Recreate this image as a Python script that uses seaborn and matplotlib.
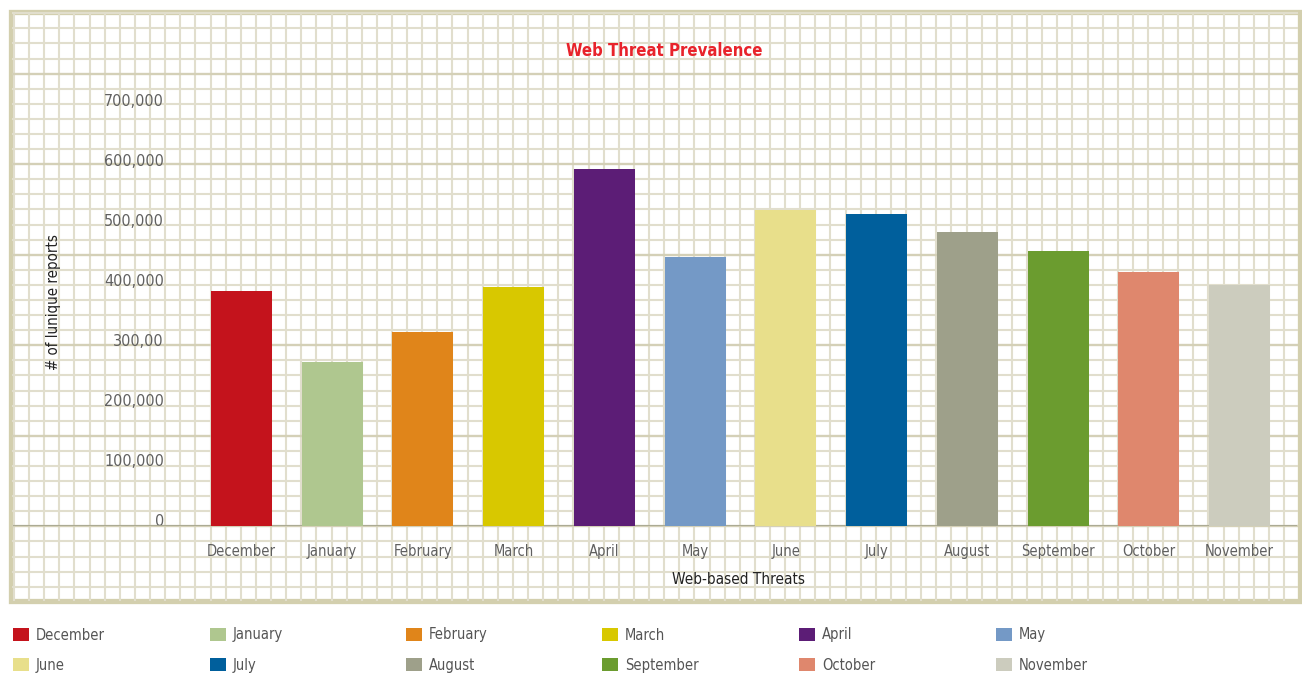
import numpy as np
import pandas as pd
import matplotlib
matplotlib.use("Agg")
import matplotlib.pyplot as plt
from matplotlib.patches import Patch, Rectangle
import seaborn as sns

# ---------------- data ----------------
months = ["December", "January", "February", "March", "April", "May",
          "June", "July", "August", "September", "October", "November"]
reports = [392000, 273000, 323000, 398000, 595000, 448000,
           527000, 520000, 490000, 458000, 423000, 402000]
colors = ["#c4131c", "#afc78f", "#e0851a", "#d8c800", "#5c1d76", "#7499c6",
          "#e8df8b", "#005f9c", "#9ea08a", "#6b9c2f", "#df876d", "#ccccbe"]
ytick_values = [0, 100000, 200000, 300000, 400000, 500000, 600000, 700000]
ytick_labels = ["0", "100,000", "200,000", "300,00", "400,000",
                "500,000", "600,000", "700,000"]
title = "Web Threat Prevalence"
xlabel = "Web-based Threats"
ylabel = "# of lunique reports"

# ---------------- style ----------------
sns.set_style("white")
plt.rcParams["font.family"] = ["DejaVu Sans"]
plt.rcParams["font.stretch"] = "condensed"

W, H = 1302, 675
fig = plt.figure(figsize=(W / 100, H / 100), dpi=100)
fig.patch.set_facecolor("white")

# ---- graph-paper background (decoration, pixel coordinates) ----
bg = fig.add_axes([0, 0, 1, 1], zorder=0)
bg.set_xlim(0, W)
bg.set_ylim(H, 0)
bg.axis("off")
x0, x1, y0, y1 = 12, 1298, 12, 601
vx = np.arange(14, x1, 15.12)
hy = np.arange(13.3, y1, 15.09)
bg.vlines(vx, y0, y1, color="#e1decd", lw=1.5)
minor_h = [y for y in hy if (round((y - 72.3) / 15.09) % 6) != 0]
major_h = [y for y in hy if (round((y - 72.3) / 15.09) % 6) == 0]
bg.hlines(minor_h, x0, x1, color="#e1decd", lw=1.5)
bg.hlines(major_h, x0, x1, color="#d4d0b7", lw=1.7)
bg.add_patch(Rectangle((10.5, 11.5), 1289, 589, fill=False,
                       edgecolor="#d3cfae", lw=3.8))

# ---- main axes ----
ax_left, ax_right = 13, 1297
ax_bottom, ax_top = 526, 106
ax = fig.add_axes([ax_left / W, 1 - ax_bottom / H,
                   (ax_right - ax_left) / W, (ax_bottom - ax_top) / H], zorder=2)
ax.set_facecolor("none")

df = pd.DataFrame({"month": months, "reports": reports})
sns.barplot(data=df, x="month", y="reports", hue="month", palette=colors,
            order=months, hue_order=months, width=0.672, saturation=1,
            linewidth=0, edgecolor="none", legend=False, ax=ax, zorder=3)

step = 90.73
ax.set_xlim((ax_left - 241.5) / step, (ax_right - 241.5) / step)
ax.set_ylim(0, 700000)
ax.axhline(0, color="#a3a38e", lw=1.2, zorder=2)

for s in ax.spines.values():
    s.set_visible(False)

ax.set_yticks(ytick_values)
ax.set_yticklabels(ytick_labels)
ax.tick_params(axis="y", length=0, pad=-108.7, labelsize=11.5, labelcolor="#606060")
plt.setp(ax.get_yticklabels(), va="baseline")
ax.tick_params(axis="x", length=0, pad=13, labelsize=10.5, labelcolor="#606060")
ax.grid(False)

ax.set_xlabel(xlabel, fontsize=11, color="#222222")
ax.xaxis.set_label_coords((739 - ax_left) / (ax_right - ax_left),
                          (ax_bottom - 572) / (ax_bottom - ax_top))
ax.set_ylabel(ylabel, fontsize=10.8, color="#222222")
ax.yaxis.set_label_coords((61 - ax_left) / (ax_right - ax_left),
                          (ax_bottom - 302.5) / (ax_bottom - ax_top))

ax.set_title(title, fontsize=12, fontweight="bold", color="#e8232b", pad=0,
             x=(664 - ax_left) / (ax_right - ax_left),
             y=(ax_bottom - 56) / (ax_bottom - ax_top))

# ---- legend: 6 columns x 2 rows below the box ----
col_x = [13, 210, 406, 602, 799, 996]
for j in range(6):
    idx = [j, j + 6]
    handles = [Patch(facecolor=colors[i], edgecolor="none") for i in idx]
    labels = [months[i] for i in idx]
    fig.legend(handles, labels, loc="upper left",
               bbox_to_anchor=(col_x[j] / W, 1 - 627.5 / H),
               frameon=False, fontsize=10.5, labelcolor="#555555",
               handlelength=1.1, handleheight=1.03, handletextpad=0.48,
               borderpad=0, borderaxespad=0, labelspacing=1.03)

fig.savefig("out.png", dpi=100, facecolor="white")
